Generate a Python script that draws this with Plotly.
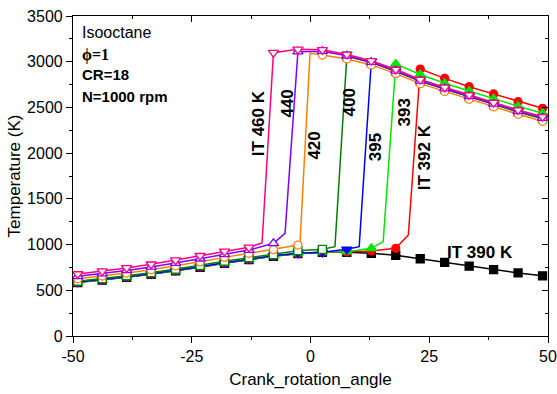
import plotly.graph_objects as go

# ---------------- data ----------------
x_markers = [-49.0, -43.85, -38.7, -33.55, -28.4, -23.25, -18.1, -12.95, -7.8, -2.65,
             2.5, 7.65, 12.8, 17.95, 23.1, 28.25, 33.4, 38.55, 43.7, 48.85]

T_390 = [585, 612, 642, 675, 712, 752, 795, 835, 872, 900, 915, 915, 905, 883, 845, 805, 765, 725, 690, 658]
T_392 = [587, 614, 644, 677, 714, 754, 797, 838, 875, 902, 917, 920, 930, 959, 2920, 2818, 2727, 2647, 2563, 2490]
T_393 = [588, 615, 645, 678, 715, 755, 798, 839, 876, 903, 918, 922, 959, 2975, 2860, 2765, 2680, 2595, 2512, 2437]
T_395 = [590, 617, 647, 680, 717, 758, 801, 842, 879, 905, 915, 948, 3000, 2895, 2790, 2705, 2620, 2535, 2455, 2380]
T_400 = [600, 628, 659, 693, 731, 773, 818, 858, 890, 933, 948, 3060, 2990, 2895, 2785, 2700, 2615, 2530, 2450, 2375]
T_420 = [627, 656, 689, 725, 766, 811, 860, 905, 945, 995, 3073, 3030, 2965, 2870, 2760, 2675, 2590, 2505, 2425, 2348]
T_440 = [653, 683, 717, 755, 798, 845, 893, 940, 1014, 3110, 3115, 3065, 2995, 2900, 2790, 2705, 2622, 2538, 2458, 2383]
T_460 = [678, 710, 745, 785, 830, 878, 925, 970, 3099, 3136, 3130, 3080, 3010, 2915, 2805, 2720, 2636, 2552, 2472, 2398]

# ignition ramp vertices (line only, no marker)
ramp_x_390, ramp_T_390 = [], []
ramp_x_392, ramp_T_392 = [20.6], [1105]
ramp_x_393, ramp_T_393 = [15.3], [1031]
ramp_x_395, ramp_T_395 = [10.25], [977]
ramp_x_400, ramp_T_400 = [5.15], [977]
ramp_x_420, ramp_T_420 = [-2.2, -0.1], [1030, 3092]
ramp_x_440, ramp_T_440 = [-5.36], [1123]
ramp_x_460, ramp_T_460 = [-10.2], [1017]

series_names = ["390", "392", "393", "395", "400", "420", "440", "460"]

x_tickvals = [-50, -25, 0, 25, 50]
x_ticktext = ["-50", "-25", "0", "25", "50"]

# ---------------- styles ----------------
styles = {
    "390": ("#000000", "square", True),
    "392": ("#FF0000", "circle", True),
    "393": ("#00E600", "triangle-up", True),
    "395": ("#0000FF", "triangle-down", True),
    "400": ("#008000", "square", False),
    "420": ("#FF8000", "circle", False),
    "440": ("#8000FF", "triangle-up", False),
    "460": ("#FF0080", "triangle-down", False),
}
data = {
    "390": (T_390, ramp_x_390, ramp_T_390),
    "392": (T_392, ramp_x_392, ramp_T_392),
    "393": (T_393, ramp_x_393, ramp_T_393),
    "395": (T_395, ramp_x_395, ramp_T_395),
    "400": (T_400, ramp_x_400, ramp_T_400),
    "420": (T_420, ramp_x_420, ramp_T_420),
    "440": (T_440, ramp_x_440, ramp_T_440),
    "460": (T_460, ramp_x_460, ramp_T_460),
}

fig = go.Figure()
for name in series_names:
    T, rx, rT = data[name]
    color, symbol, filled = styles[name]
    pts = sorted(list(zip(x_markers, T)) + list(zip(rx, rT)))
    fig.add_trace(go.Scatter(x=[p[0] for p in pts], y=[p[1] for p in pts], mode="lines",
                             line=dict(color=color, width=1.5), showlegend=False, hoverinfo="skip"))
    fig.add_trace(go.Scatter(x=x_markers, y=T, mode="markers", showlegend=False,
                             marker=dict(symbol=symbol, size=8 if symbol in ("square", "circle") else 9,
                                         color=color if filled else "white",
                                         line=dict(color=color, width=1.3))))

# empty trace to bind mirror axes
fig.add_trace(go.Scatter(x=[], y=[], xaxis="x2", yaxis="y2", showlegend=False))

font_family = "Arial, Liberation Sans, sans-serif"
axis_common = dict(showline=True, linecolor="black", linewidth=1.2, showgrid=False, zeroline=False,
                   tickcolor="black", ticklen=6, tickwidth=1.2, automargin=False,
                   tickfont=dict(family=font_family, size=16, color="black"))

fig.update_layout(
    width=557, height=394,
    margin=dict(l=73, r=9, t=16, b=58),
    plot_bgcolor="white", paper_bgcolor="white",
    xaxis=dict(range=[-50, 50], tickvals=x_tickvals, ticktext=x_ticktext, ticks="outside",
               minor=dict(dtick=12.5, tick0=-50, ticks="outside", ticklen=3, tickcolor="black"),
               title=dict(text="Crank_rotation_angle", font=dict(family=font_family, size=17, color="black"),
                          standoff=8),
               **axis_common),
    yaxis=dict(range=[0, 3500], dtick=500, ticks="outside",
               minor=dict(dtick=250, ticks="outside", ticklen=3, tickcolor="black"),
               title=dict(text="Temperature (K)", font=dict(family=font_family, size=17, color="black"),
                          standoff=2),
               **axis_common),
    xaxis2=dict(range=[-50, 50], overlaying="x", side="top", anchor="y", showticklabels=False,
                tickvals=x_tickvals, ticks="inside",
                minor=dict(dtick=12.5, tick0=-50, ticks="inside", ticklen=3, tickcolor="black"),
                **axis_common),
    yaxis2=dict(range=[0, 3500], overlaying="y", side="right", anchor="x", showticklabels=False,
                dtick=500, ticks="inside",
                minor=dict(dtick=250, ticks="inside", ticklen=3, tickcolor="black"),
                **axis_common),
)

# ---------------- text ----------------
def note(x, y, text, size=15, bold=True, angle=0, xanchor="center", family=font_family):
    fig.add_annotation(x=x, y=y, xref="x", yref="y", text=f"<b>{text}</b>" if bold else text,
                       showarrow=False, textangle=angle, xanchor=xanchor, yanchor="middle",
                       font=dict(family=family, size=size, color="black"))

note(-48.6, 3325, "Isooctane", size=16, bold=False, xanchor="left")
note(-48.6, 3075, "ϕ=1", size=16, xanchor="left", family="Liberation Serif, Times New Roman, serif")
note(-48.6, 2855, "CR=18", size=15, xanchor="left")
note(-48.6, 2615, "N=1000 rpm", size=15, xanchor="left")

note(-10.8, 2330, "IT 460 K", size=17, angle=-90)
note(-4.9, 2545, "440", size=17, angle=-90)
note(0.9, 2080, "420", size=17, angle=-90)
note(8.2, 2560, "400", size=17, angle=-90)
note(13.7, 2060, "395", size=17, angle=-90)
note(19.8, 2440, "393", size=17, angle=-90)
note(24.0, 1950, "IT 392 K", size=17, angle=-90)
note(35.6, 908, "IT 390 K", size=17)

fig.write_html("out.html", config={"displayModeBar": False},
               post_script="document.body.style.margin='0';")
